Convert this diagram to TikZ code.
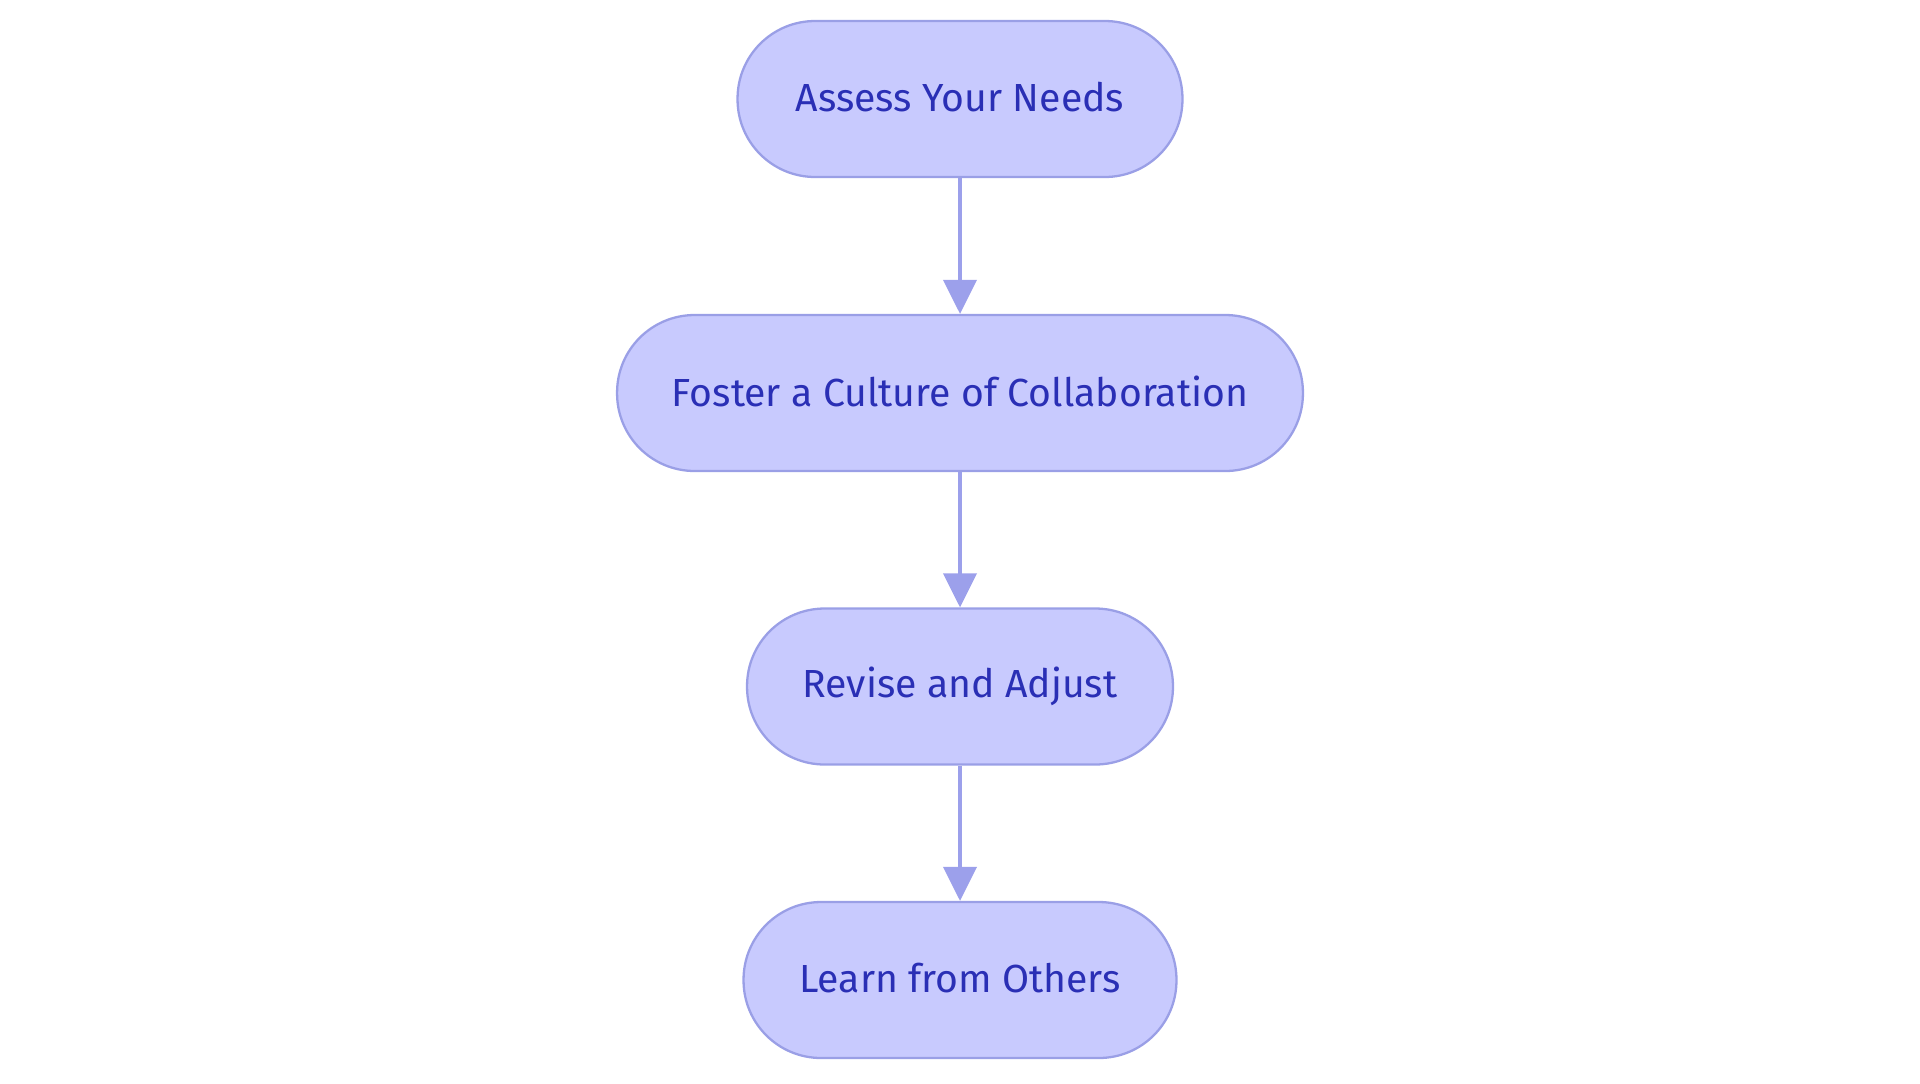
\documentclass[tikz,border=0pt]{standalone}
\usepackage{fontspec}
\setmainfont{Fira Sans}
\usetikzlibrary{arrows.meta}
\definecolor{boxfill}{HTML}{C8CAFE}
\definecolor{boxline}{HTML}{9A9FE6}
\definecolor{boxtext}{HTML}{2A2FB5}
\definecolor{arrowcol}{HTML}{9CA0EB}
\tikzset{
  stepbox/.style={draw=boxline, line width=1.3pt, fill=boxfill, rounded corners=1.55cm,
    minimum height=3.12cm, text=boxtext, font=\fontsize{22.3}{26}\selectfont, inner sep=0pt},
  flow/.style={draw=arrowcol, line width=2.3pt, -{Triangle[width=0.66cm,length=0.68cm]}}
}
\begin{document}
\begin{tikzpicture}[x=0.02cm,y=-0.02cm]
\useasboundingbox (0,0) rectangle (1920,1083);
\node[stepbox, minimum width=8.9cm] (a) at (960,99) {\raisebox{2pt}{Assess Your Needs}};
\node[stepbox, minimum width=13.72cm] (b) at (960,393) {\raisebox{2pt}{Foster a Culture of Collaboration}};
\node[stepbox, minimum width=8.52cm] (c) at (960,686.5) {\raisebox{2pt}{Revise and Adjust}};
\node[stepbox, minimum width=8.66cm] (d) at (960,980) {\raisebox{2pt}{Learn from Others}};
\draw[flow] (a) -- (b);
\draw[flow] (b) -- (c);
\draw[flow] (c) -- (d);
\end{tikzpicture}
\end{document}
